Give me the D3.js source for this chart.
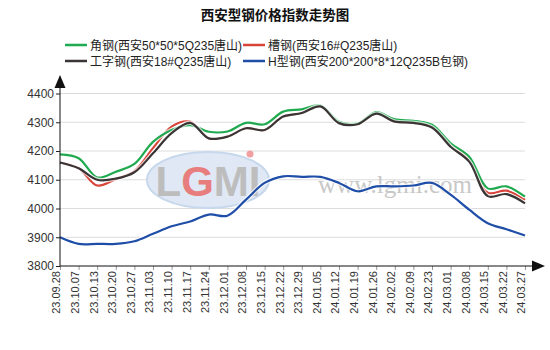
<!DOCTYPE html>
<html><head><meta charset="utf-8">
<script src="https://cdn.jsdelivr.net/npm/d3@7"></script>
<style>body{margin:0;background:#fff}svg{display:block}</style>
</head><body>
<script>
const categories = ["23.09.28","23.10.07","23.10.13","23.10.20","23.10.27","23.11.03","23.11.10","23.11.17","23.11.24","23.12.01","23.12.08","23.12.15","23.12.22","23.12.29","24.01.05","24.01.12","24.01.19","24.01.26","24.02.02","24.02.09","24.02.23","24.03.01","24.03.08","24.03.15","24.03.22","24.03.27"];
const angleSteel = [4188,4175,4108,4128,4155,4232,4273,4290,4267,4268,4298,4293,4337,4345,4358,4302,4296,4335,4310,4305,4291,4227,4180,4070,4077,4041];
const channelSteel = [4160,4140,4080,4102,4130,4210,4285,4302,4244,4250,4279,4273,4320,4332,4355,4297,4293,4330,4302,4298,4282,4220,4170,4055,4062,4030];
const iBeam = [4160,4140,4100,4104,4126,4192,4262,4298,4244,4250,4279,4273,4320,4332,4355,4297,4293,4330,4302,4298,4282,4215,4163,4043,4050,4018];
const hBeam = [3900,3877,3877,3877,3886,3912,3938,3955,3979,3975,4031,4089,4112,4110,4110,4089,4060,4077,4077,4080,4089,4048,3996,3949,3928,3906];
const yTicks = [3800,3900,4000,4100,4200,4300,4400];
const seriesNames = ["角钢(西安50*50*5Q235唐山)","槽钢(西安16#Q235唐山)","工字钢(西安18#Q235唐山)","H型钢(西安200*200*8*12Q235B包钢)"];
const colors = ["#1faa4f","#d8443a","#3a3434","#1f4ea8"];
const title = "西安型钢价格指数走势图";

const W = 550, H = 350;
const svg = d3.select("body").append("svg").attr("width", W).attr("height", H)
  .style("font-family", "'Liberation Sans', Arial, sans-serif");

const x = d3.scalePoint().domain(categories).range([60, 525]);
const y = d3.scaleLinear().domain([3800, 4400]).range([266, 93.5]);

svg.append("text").attr("x", 275).attr("y", 20).attr("text-anchor", "middle")
  .attr("font-size", 13.5).attr("font-weight", "bold").attr("fill", "#111")
  .style("font-family", "'Noto Sans CJK SC', sans-serif").text(title);

// legend
const legPos = [[65,45],[243,45],[65,61],[243,61]];
seriesNames.forEach((n, i) => {
  const [lx, ly] = legPos[i];
  svg.append("line").attr("x1", lx).attr("x2", lx + 22).attr("y1", ly).attr("y2", ly)
    .attr("stroke", colors[i]).attr("stroke-width", 2.5);
  svg.append("text").attr("x", lx + 25).attr("y", ly + 4.5).attr("font-size", 12).attr("fill", "#222")
    .style("font-family", "'Liberation Sans', 'Noto Sans CJK SC', sans-serif").text(n);
});

// gridlines
svg.append("g").selectAll("line").data(yTicks.slice(1)).join("line")
  .attr("x1", 60).attr("x2", 525).attr("y1", d => y(d)).attr("y2", d => y(d))
  .attr("stroke", "#dcdcdc").attr("stroke-width", 1);

// watermark
const wm = svg.append("g");
wm.append("ellipse").attr("cx", 208).attr("cy", 180).attr("rx", 61).attr("ry", 28)
  .attr("fill", "#dfe8f4").attr("stroke", "#c7d7ec").attr("stroke-width", 2);
const wt = wm.append("text").attr("x", 208).attr("y", 196).attr("text-anchor", "middle")
  .attr("font-size", 42).attr("font-weight", "bold").attr("fill", "#bdbdbd");
wt.append("tspan").text("L");
wt.append("tspan").attr("fill", "#e87d7d").text("G");
wt.append("tspan").text("MI");
wm.append("circle").attr("cx", 250).attr("cy", 154).attr("r", 3.5).attr("fill", "#f0a0a0");
wm.append("text").attr("x", 395).attr("y", 193).attr("text-anchor", "middle")
  .attr("font-size", 25).attr("fill", "#c8c8c8")
  .style("font-family", "'Liberation Serif', serif").text("www.lgmi.com");

// lines
const line = d3.line().x((d, i) => x(categories[i])).y(d => y(d)).curve(d3.curveCatmullRom.alpha(0.5));
const data = [channelSteel, angleSteel, iBeam, hBeam];
const dcol = [colors[1], colors[0], colors[2], colors[3]];
data.forEach((s, i) => {
  svg.append("path").attr("d", line(s)).attr("fill", "none")
    .attr("stroke", "#fff").attr("stroke-opacity", 0.7).attr("stroke-width", 4.5);
  svg.append("path").attr("d", line(s)).attr("fill", "none")
    .attr("stroke", dcol[i]).attr("stroke-width", 2.2).attr("stroke-linejoin", "round");
});

// y axis
const ya = svg.append("g").attr("transform", "translate(60,0)")
  .call(d3.axisLeft(y).tickValues(yTicks).tickSize(4).tickPadding(2).tickFormat(d3.format("d")));
ya.select(".domain").remove();
ya.selectAll("line").attr("stroke", "#222");
ya.selectAll("text").attr("font-size", 12).attr("fill", "#333")
  .style("font-family", "'Liberation Sans', Arial, sans-serif");
svg.append("line").attr("x1", 60).attr("x2", 60).attr("y1", 266).attr("y2", 86).attr("stroke", "#111");
svg.append("path").attr("d", "M60,75 L54.5,88 L65.5,88 Z").attr("fill", "#111");

// x axis
const xa = svg.append("g").attr("transform", "translate(0,266)")
  .call(d3.axisBottom(x).tickSize(4).tickPadding(3));
xa.select(".domain").remove();
xa.selectAll("line").attr("stroke", "#999");
xa.selectAll("text").attr("font-size", 11).attr("fill", "#333")
  .style("font-family", "'Liberation Sans', Arial, sans-serif")
  .attr("text-anchor", "end").attr("transform", "rotate(-90)")
  .attr("x", -5).attr("y", -4).attr("dy", "0.35em");
svg.append("line").attr("x1", 60).attr("x2", 533).attr("y1", 266).attr("y2", 266).attr("stroke", "#111");
svg.append("path").attr("d", "M545,266 L532,260.5 L532,271.5 Z").attr("fill", "#111");
</script>
</body></html>
